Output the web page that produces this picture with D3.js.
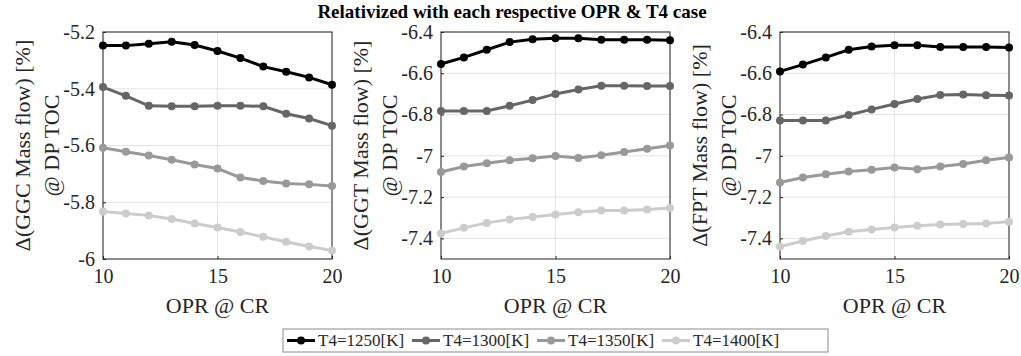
<!DOCTYPE html>
<html>
<head>
<meta charset="utf-8">
<script src="https://cdn.jsdelivr.net/npm/d3@7"></script>
<style>
  body { margin: 0; background: #fff; }
  svg { display: block; font-family: "Liberation Serif", "Times New Roman", serif; }
</style>
</head>
<body>
<div id="chart"></div>
<script>
// OPR @ CR values on the x axis
const opr = [10, 11, 12, 13, 14, 15, 16, 17, 18, 19, 20];
const xTicks = [10, 15, 20];
const cases = ['T4=1250[K]', 'T4=1300[K]', 'T4=1350[K]', 'T4=1400[K]'];
const caseColors = ['#000000', '#666666', '#999999', '#cccccc'];

// GGC mass flow
const ggc1250 = [-5.248, -5.248, -5.241, -5.234, -5.246, -5.267, -5.292, -5.322, -5.340, -5.360, -5.386];
const ggc1300 = [-5.394, -5.425, -5.460, -5.462, -5.462, -5.460, -5.460, -5.462, -5.488, -5.505, -5.530];
const ggc1350 = [-5.608, -5.622, -5.635, -5.650, -5.667, -5.681, -5.713, -5.725, -5.734, -5.737, -5.743];
const ggc1400 = [-5.833, -5.840, -5.847, -5.859, -5.875, -5.889, -5.905, -5.922, -5.939, -5.956, -5.970];
// GGT mass flow
const ggt1250 = [-6.555, -6.523, -6.486, -6.449, -6.435, -6.430, -6.430, -6.438, -6.438, -6.438, -6.440];
const ggt1300 = [-6.783, -6.783, -6.783, -6.757, -6.730, -6.700, -6.679, -6.660, -6.660, -6.662, -6.662];
const ggt1350 = [-7.078, -7.052, -7.036, -7.022, -7.012, -7.001, -7.011, -6.997, -6.982, -6.966, -6.950];
const ggt1400 = [-7.376, -7.349, -7.325, -7.308, -7.296, -7.284, -7.274, -7.265, -7.265, -7.260, -7.253];
// FPT mass flow
const fpt1250 = [-6.591, -6.558, -6.523, -6.486, -6.470, -6.464, -6.464, -6.473, -6.473, -6.473, -6.475];
const fpt1300 = [-6.829, -6.829, -6.829, -6.802, -6.775, -6.749, -6.725, -6.705, -6.703, -6.706, -6.708];
const fpt1350 = [-7.129, -7.105, -7.089, -7.076, -7.068, -7.057, -7.065, -7.052, -7.040, -7.022, -7.008];
const fpt1400 = [-7.440, -7.413, -7.389, -7.368, -7.357, -7.347, -7.339, -7.333, -7.330, -7.328, -7.320];

const ggcTicks = [-6, -5.8, -5.6, -5.4, -5.2];
const turbTicks = [-7.4, -7.2, -7, -6.8, -6.6, -6.4];

const panels = [
    { name: 'GGC', left: 103, domain: [-6, -5.2], ticks: ggcTicks, series: [ggc1250, ggc1300, ggc1350, ggc1400] },
    { name: 'GGT', left: 441, domain: [-7.5, -6.4], ticks: turbTicks, series: [ggt1250, ggt1300, ggt1350, ggt1400] },
    { name: 'FPT', left: 780, domain: [-7.5, -6.4], ticks: turbTicks, series: [fpt1250, fpt1300, fpt1350, fpt1400] }
];

const width = 1021, height = 356;
const plotTop = 32, plotH = 227, plotW = 229;
const axisColor = '#262626';
const serif = '"Liberation Serif", "Times New Roman", serif';

const svg = d3.select('#chart').append('svg')
    .attr('width', width)
    .attr('height', height);

svg.append('text')
    .attr('x', 512)
    .attr('y', 18)
    .attr('text-anchor', 'middle')
    .attr('font-family', serif)
    .style('font-weight', 'bold')
    .style('font-size', '19px')
    .text('Relativized with each respective OPR & T4 case');

const x = d3.scaleLinear().domain([10, 20]).range([0, plotW]);

panels.forEach(p => {
    const y = d3.scaleLinear().domain(p.domain).range([plotH, 0]);
    const g = svg.append('g').attr('transform', `translate(${p.left}, ${plotTop})`);

    // grid
    g.append('g').selectAll('line').data(p.ticks).enter().append('line')
        .attr('x1', 0).attr('x2', plotW)
        .attr('y1', d => y(d)).attr('y2', d => y(d))
        .attr('stroke', '#e3e3e3');
    g.append('g').selectAll('line').data(xTicks).enter().append('line')
        .attr('x1', d => x(d)).attr('x2', d => x(d))
        .attr('y1', 0).attr('y2', plotH)
        .attr('stroke', '#e3e3e3');

    // box
    g.append('rect')
        .attr('width', plotW).attr('height', plotH)
        .attr('fill', 'none').attr('stroke', axisColor).attr('stroke-width', 1);

    const yAxis = g.append('g')
        .call(d3.axisLeft(y).tickValues(p.ticks).tickFormat(d => String(d))
            .tickSizeInner(-3).tickSizeOuter(0).tickPadding(8));
    const xAxis = g.append('g')
        .attr('transform', `translate(0, ${plotH})`)
        .call(d3.axisBottom(x).tickValues(xTicks).tickSizeInner(-3).tickSizeOuter(0).tickPadding(10));
    [yAxis, xAxis].forEach(a => {
        a.attr('font-family', serif);
        a.select('.domain').remove();
        a.selectAll('line').attr('stroke', axisColor);
        a.selectAll('text')
            .attr('fill', axisColor)
            .style('font-size', '20px');
    });

    // lines
    const line = d3.line().x((d, i) => x(opr[i])).y(d => y(d));
    p.series.forEach((s, k) => {
        g.append('path')
            .datum(s)
            .attr('d', line)
            .attr('fill', 'none')
            .attr('stroke', caseColors[k])
            .attr('stroke-width', 3);
        g.append('g').selectAll('circle').data(s).enter().append('circle')
            .attr('cx', (d, i) => x(opr[i]))
            .attr('cy', d => y(d))
            .attr('r', 4)
            .attr('fill', caseColors[k]);
    });

    // labels
    const labelG = g.append('g')
        .attr('font-family', serif)
        .attr('transform', `translate(-81, ${plotH / 2}) rotate(-90)`);
    labelG.append('text')
        .attr('text-anchor', 'middle')
        .attr('dominant-baseline', 'central')
        .style('font-size', '22px')
        .attr('fill', axisColor)
        .text(`\u0394(${p.name} Mass flow) [%]`);
    labelG.append('text')
        .attr('text-anchor', 'middle')
        .attr('dominant-baseline', 'central')
        .attr('y', 29)
        .style('font-size', '22px')
        .attr('fill', axisColor)
        .text('@ DP TOC');

    g.append('text')
        .attr('x', plotW / 2)
        .attr('y', 273)
        .attr('text-anchor', 'middle')
        .attr('dominant-baseline', 'central')
        .attr('font-family', serif)
        .style('font-size', '22px')
        .attr('fill', axisColor)
        .text('OPR @ CR');
});

// legend
const legend = svg.append('g').attr('transform', 'translate(283, 329)').attr('font-family', serif);
legend.append('rect')
    .attr('width', 545).attr('height', 23)
    .attr('fill', '#fff').attr('stroke', '#8c8c8c');
cases.forEach((c, k) => {
    const e = legend.append('g').attr('transform', `translate(${4 + k * 125}, 11.5)`);
    e.append('line').attr('x1', 0).attr('x2', 28).attr('stroke', caseColors[k]).attr('stroke-width', 3);
    e.append('circle').attr('cx', 14).attr('r', 4).attr('fill', caseColors[k]);
    e.append('text')
        .attr('x', 31)
        .attr('dominant-baseline', 'central')
        .style('font-size', '17px')
        .attr('fill', axisColor)
        .text(c);
});
</script>
</body>
</html>
